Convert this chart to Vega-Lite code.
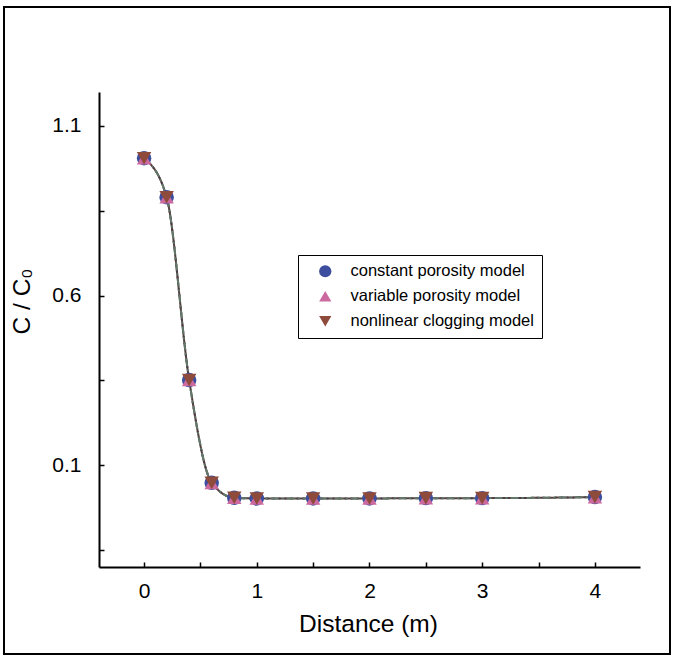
{
  "$schema": "https://vega.github.io/schema/vega-lite/v6.json",
  "width": 666,
  "height": 647,
  "autosize": {"type": "none"},
  "padding": {"left": 4, "top": 7, "right": 6, "bottom": 4},
  "background": "white",
  "config": {
    "view": {"stroke": "black", "strokeWidth": 2},
    "font": "Liberation Sans",
    "axis": {
      "grid": false,
      "domainColor": "black",
      "domainWidth": 2,
      "tickColor": "black",
      "tickWidth": 1.5,
      "tickSize": -5,
      "labelColor": "black",
      "labelFont": "Liberation Sans",
      "labelFontSize": 21,
      "titleColor": "black",
      "titleFont": "Liberation Sans",
      "titleFontSize": 24.5,
      "titleFontWeight": "normal"
    },
    "legend": {
      "title": null,
      "orient": "none",
      "legendX": 294,
      "legendY": 248,
      "padding": 8,
      "rowPadding": 8,
      "symbolSize": 150,
      "symbolOffset": 11,
      "symbolStrokeWidth": 1.5,
      "labelOffset": 17,
      "labelLimit": 400,
      "labelFont": "Liberation Sans",
      "labelFontSize": 16.5,
      "labelColor": "black",
      "strokeColor": "black"
    }
  },
  "data": {
    "values": [
      {"model": "constant porosity model", "distance": 0, "ratio": 1.005},
      {"model": "constant porosity model", "distance": 0.2, "ratio": 0.89},
      {"model": "constant porosity model", "distance": 0.4, "ratio": 0.351},
      {"model": "constant porosity model", "distance": 0.6, "ratio": 0.048},
      {"model": "constant porosity model", "distance": 0.8, "ratio": 0.004},
      {"model": "constant porosity model", "distance": 1, "ratio": 0.002},
      {"model": "constant porosity model", "distance": 1.5, "ratio": 0.002},
      {"model": "constant porosity model", "distance": 2, "ratio": 0.002},
      {"model": "constant porosity model", "distance": 2.5, "ratio": 0.003},
      {"model": "constant porosity model", "distance": 3, "ratio": 0.003},
      {"model": "constant porosity model", "distance": 4, "ratio": 0.006},
      {"model": "variable porosity model", "distance": 0, "ratio": 1.005},
      {"model": "variable porosity model", "distance": 0.2, "ratio": 0.89},
      {"model": "variable porosity model", "distance": 0.4, "ratio": 0.351},
      {"model": "variable porosity model", "distance": 0.6, "ratio": 0.048},
      {"model": "variable porosity model", "distance": 0.8, "ratio": 0.004},
      {"model": "variable porosity model", "distance": 1, "ratio": 0.002},
      {"model": "variable porosity model", "distance": 1.5, "ratio": 0.002},
      {"model": "variable porosity model", "distance": 2, "ratio": 0.002},
      {"model": "variable porosity model", "distance": 2.5, "ratio": 0.003},
      {"model": "variable porosity model", "distance": 3, "ratio": 0.003},
      {"model": "variable porosity model", "distance": 4, "ratio": 0.006},
      {"model": "nonlinear clogging model", "distance": 0, "ratio": 1.005},
      {"model": "nonlinear clogging model", "distance": 0.2, "ratio": 0.89},
      {"model": "nonlinear clogging model", "distance": 0.4, "ratio": 0.351},
      {"model": "nonlinear clogging model", "distance": 0.6, "ratio": 0.048},
      {"model": "nonlinear clogging model", "distance": 0.8, "ratio": 0.004},
      {"model": "nonlinear clogging model", "distance": 1, "ratio": 0.002},
      {"model": "nonlinear clogging model", "distance": 1.5, "ratio": 0.002},
      {"model": "nonlinear clogging model", "distance": 2, "ratio": 0.002},
      {"model": "nonlinear clogging model", "distance": 2.5, "ratio": 0.003},
      {"model": "nonlinear clogging model", "distance": 3, "ratio": 0.003},
      {"model": "nonlinear clogging model", "distance": 4, "ratio": 0.006}
    ]
  },
  "encoding": {
    "x": {
      "field": "distance",
      "type": "quantitative",
      "scale": {"domain": [-0.4, 4.4], "range": [95, 636], "nice": false, "zero": false},
      "axis": {
        "title": "Distance (m)",
        "orient": "bottom",
        "offset": -87,
        "values": [0, 0.5, 1, 1.5, 2, 2.5, 3, 3.5, 4],
        "format": ".0f",
        "labelExpr": "datum.value % 1 === 0 ? datum.label : ''",
        "labelPadding": 18,
        "labelFlush": false,
        "titleX": 364,
        "titleY": 57,
        "titleBaseline": "middle"
      }
    },
    "y": {
      "field": "ratio",
      "type": "quantitative",
      "scale": {"domain": [-0.2, 1.2], "range": [560, 85], "nice": false, "zero": false},
      "axis": {
        "title": "C / C₀",
        "orient": "left",
        "offset": -95,
        "values": [-0.15, 0.1, 0.35, 0.6, 0.85, 1.1],
        "format": ".1f",
        "labelExpr": "abs((datum.value - 0.1) / 0.5 - round((datum.value - 0.1) / 0.5)) < 0.01 ? datum.label : ''",
        "labelPadding": 23,
        "labelFlush": false,
        "titleX": -77,
        "titleY": 294,
        "titleAngle": -90,
        "titleBaseline": "middle"
      }
    }
  },
  "layer": [
    {
      "mark": {"type": "line", "interpolate": "monotone", "strokeWidth": 2},
      "encoding": {
        "stroke": {
          "field": "model",
          "type": "nominal",
          "sort": "ascending",
          "scale": {"range": ["#54403c", "#62786a", "#4a3a4a"]},
          "legend": null
        },
        "strokeDash": {
          "field": "model",
          "type": "nominal",
          "sort": "ascending",
          "scale": {"range": [[1, 0], [8, 3, 2, 3], [2, 4]]},
          "legend": null
        }
      }
    },
    {
      "mark": {"type": "point", "filled": true, "size": 210, "opacity": 1},
      "encoding": {
        "color": {
          "field": "model",
          "type": "nominal",
          "scale": {
            "domain": ["constant porosity model", "variable porosity model", "nonlinear clogging model"],
            "range": ["#3d4e9e", "#cc6aa0", "#8e4a3b"]
          }
        },
        "shape": {
          "field": "model",
          "type": "nominal",
          "scale": {
            "domain": ["constant porosity model", "variable porosity model", "nonlinear clogging model"],
            "range": ["circle", "triangle-up", "triangle-down"]
          }
        }
      }
    }
  ]
}
